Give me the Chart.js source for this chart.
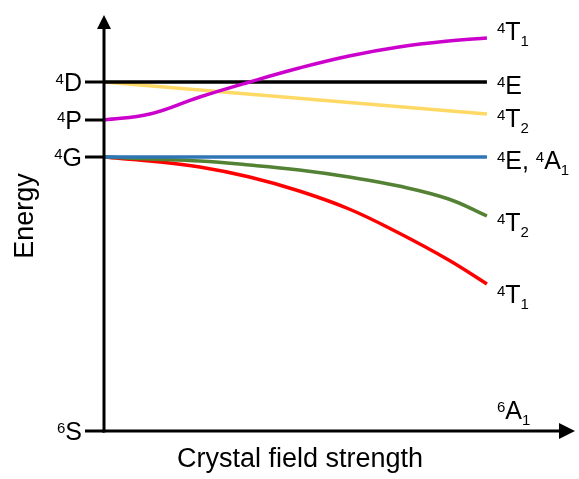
<!DOCTYPE html>
<html>
<head>
<meta charset="utf-8">
<script src="https://cdn.jsdelivr.net/npm/chart.js@4/dist/chart.umd.min.js"></script>
<style>
  html, body { margin: 0; padding: 0; background: #fff; }
  #wrap { width: 579px; height: 479px; }
</style>
</head>
<body>
<div id="wrap"><canvas id="energyChart"></canvas></div>
<script>
// crystal field strength (arbitrary units), line ends at 10
const fieldStrength = [0, 1.2, 2.5, 3.8, 5.1, 6.4, 7.7, 9.0, 10];
const fieldEnds = [0, 10];

// free ion terms on the energy axis
const freeIonTerms = ['^6S', '^4G', '^4P', '^4D'];
const freeIonEnergy = [0, 274, 311, 349];

// crystal field terms (energy, arbitrary units)
const t1Upper = [311, 317, 334, 349, 363, 375, 384, 390, 393];
const eFromD = [349, 349];
const t2FromD = [349, 317];
const eA1FromG = [274, 274];
const t2FromG = [274, 272, 270, 266, 261, 254, 245, 232, 215];
const t1FromG = [274, 270, 264, 254, 240, 222, 198, 171, 147];
const a1FromS = [0, 0];

const termLabels = ['^4T_1', '^4E', '^4T_2', '^4E, ^4A_1', '^4T_2', '^4T_1', '^6A_1'];
// pixel nudge of each right-hand label from its line end
const labelNudge = [-7, 3, 4, 3, 6, 10, -21];

const FONT = '"Liberation Sans", Arial, sans-serif';

function pts(xs, ys) {
    return ys.map((y, i) => ({ x: xs[i], y: y }));
}

function parseRich(str) {
    let out = [];
    for (let i = 0; i < str.length; i++) {
        let c = str[i];
        if (c === '^' || c === '_') {
            out.push({ t: str[i + 1], k: c === '^' ? 'sup' : 'sub' });
            i++;
        } else {
            out.push({ t: c, k: 'main' });
        }
    }
    return out;
}

// draws text with super/subscripts; y is the vertical centre of the capitals
function drawRich(ctx, str, x, y, align) {
    const size = 25, small = 15;
    let parts = parseRich(str);
    let width = 0;
    parts.forEach(p => {
        ctx.font = (p.k === 'main' ? size : small) + 'px ' + FONT;
        p.w = ctx.measureText(p.t).width;
        width += p.w;
    });
    let cx = align === 'right' ? x - width : x;
    let base = y + size * 0.716 / 2;
    ctx.textBaseline = 'alphabetic';
    ctx.textAlign = 'left';
    ctx.fillStyle = '#000';
    parts.forEach(p => {
        ctx.font = (p.k === 'main' ? size : small) + 'px ' + FONT;
        let by = base;
        if (p.k === 'sup') by = base - 7;
        if (p.k === 'sub') by = base + 6;
        ctx.fillText(p.t, cx, by);
        cx += p.w;
    });
}

const axesPlugin = {
    id: 'diagramAxes',
    afterDatasetsDraw(chart) {
        const ctx = chart.ctx;
        const xs = chart.scales.x, ys = chart.scales.y;
        const x0 = xs.getPixelForValue(0);
        const y0 = ys.getPixelForValue(0);
        const yTop = ys.getPixelForValue(ys.max);
        const xEnd = xs.getPixelForValue(xs.max);
        ctx.save();
        ctx.strokeStyle = '#000';
        ctx.fillStyle = '#000';
        ctx.lineWidth = 3;
        // y axis with arrow
        ctx.beginPath();
        ctx.moveTo(x0, y0 + 1.5);
        ctx.lineTo(x0, yTop + 12);
        ctx.stroke();
        ctx.beginPath();
        ctx.moveTo(x0, yTop);
        ctx.lineTo(x0 - 7, yTop + 14);
        ctx.lineTo(x0 + 7, yTop + 14);
        ctx.closePath();
        ctx.fill();
        // x axis with arrow
        ctx.beginPath();
        ctx.moveTo(x0 - 1.5, y0);
        ctx.lineTo(xEnd - 14, y0);
        ctx.stroke();
        ctx.beginPath();
        ctx.moveTo(xEnd, y0);
        ctx.lineTo(xEnd - 16, y0 - 8);
        ctx.lineTo(xEnd - 16, y0 + 8);
        ctx.closePath();
        ctx.fill();
        // free ion ticks and labels
        freeIonEnergy.forEach((e, i) => {
            const py = ys.getPixelForValue(e);
            ctx.beginPath();
            ctx.moveTo(x0 - 19, py);
            ctx.lineTo(x0, py);
            ctx.stroke();
            drawRich(ctx, freeIonTerms[i], x0 - 22, py, 'right');
        });
        // crystal field term labels at the line ends
        const lx = xs.getPixelForValue(10) + 10;
        chart.data.datasets.forEach((ds, i) => {
            const last = ds.data[ds.data.length - 1];
            drawRich(ctx, termLabels[i], lx, ys.getPixelForValue(last.y) + labelNudge[i], 'left');
        });
        // axis titles
        ctx.font = '27px ' + FONT;
        ctx.textAlign = 'center';
        ctx.textBaseline = 'middle';
        ctx.fillText('Crystal field strength', 300, 460);
        ctx.translate(26, 216);
        ctx.rotate(-Math.PI / 2);
        ctx.fillText('Energy', 0, 0);
        ctx.restore();
    }
};

function line(data, color) {
    return {
        data: data,
        borderColor: color,
        borderWidth: 3.5,
        pointRadius: 0,
        fill: false,
        tension: 0.4
    };
}

new Chart(document.getElementById('energyChart'), {
    type: 'line',
    data: {
        datasets: [
            line(pts(fieldStrength, t1Upper), '#CC00CC'),
            line(pts(fieldEnds, eFromD), '#000000'),
            line(pts(fieldEnds, t2FromD), '#FFD966'),
            line(pts(fieldEnds, eA1FromG), '#2E75B6'),
            line(pts(fieldStrength, t2FromG), '#548235'),
            line(pts(fieldStrength, t1FromG), '#FF0000'),
            line(pts(fieldEnds, a1FromS), 'rgba(0,0,0,0)')
        ]
    },
    options: {
        responsive: true,
        maintainAspectRatio: false,
        animation: false,
        layout: { padding: { left: 104, right: 4, top: 15, bottom: 48 } },
        scales: {
            x: { type: 'linear', min: 0, max: 12.3, display: false },
            y: { type: 'linear', min: 0, max: 416, display: false }
        },
        plugins: {
            legend: { display: false },
            tooltip: { enabled: false }
        }
    },
    plugins: [axesPlugin]
});
</script>
</body>
</html>
